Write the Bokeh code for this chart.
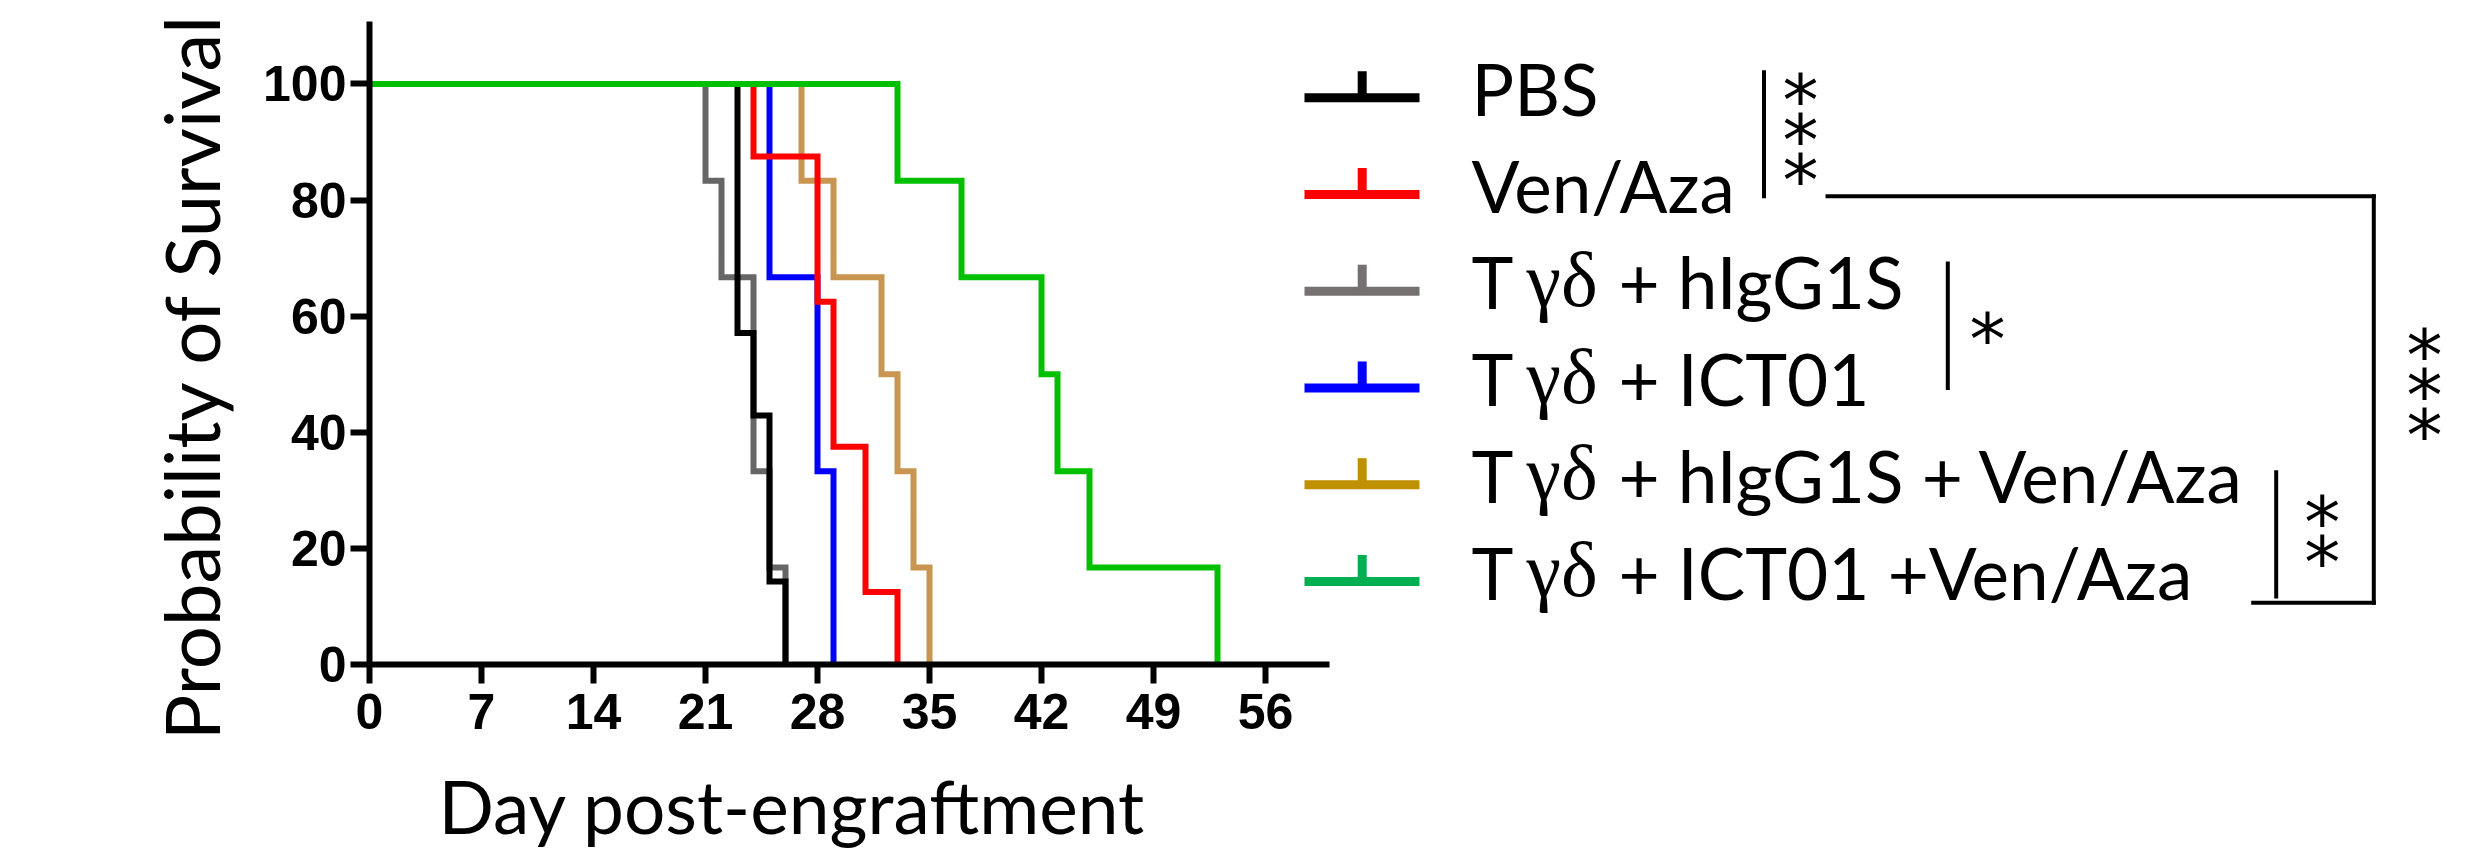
import math
from bokeh.plotting import figure
from bokeh.models import Range1d, FixedTicker, ColumnDataSource, Title
from bokeh.core.properties import value
from bokeh.embed import file_html
from bokeh.resources import INLINE

# ---------------- data ----------------
group_names = ["PBS", "Ven/Aza", "T γδ + hIgG1S", "T γδ + ICT01",
               "T γδ + hIgG1S + Ven/Aza", "T γδ + ICT01 +Ven/Aza"]

pbs_days = [0, 23, 24, 25, 26]
pbs_surv = [100, 57.1, 42.9, 14.3, 0]
venaza_days = [0, 24, 28, 29, 31, 33]
venaza_surv = [100, 87.5, 62.5, 37.5, 12.5, 0]
igg_days = [0, 21, 22, 24, 25, 26]
igg_surv = [100, 83.3, 66.7, 33.3, 16.7, 0]
ict_days = [0, 25, 28, 29]
ict_surv = [100, 66.7, 33.3, 0]
igg_va_days = [0, 27, 29, 32, 33, 34, 35]
igg_va_surv = [100, 83.3, 66.7, 50, 33.3, 16.7, 0]
ict_va_days = [0, 33, 37, 42, 43, 45, 53]
ict_va_surv = [100, 83.3, 66.7, 50, 33.3, 16.7, 0]

x_ticks = [0, 7, 14, 21, 28, 35, 42, 49, 56]
y_ticks = [0, 20, 40, 60, 80, 100]

curve_colors = ["#000000", "#FF0000", "#666666", "#0000FF", "#C89650", "#00C000"]
legend_colors = ["#000000", "#FF0000", "#767171", "#0000FF", "#BF9000", "#00B050"]

# significance annotations
sig_marks = ["***", "*", "**", "***"]

# ---------------- layout helpers (canvas px -> data) ----------------
W, H = 2490, 851
ML, MT, MR = 369, 21, 0
FRAME_H = 643
MB = H - MT - FRAME_H
FRAME_W = W - ML - MR
PX_DAY = 16.0
X_END = FRAME_W / PX_DAY
Y_END = 110.75
LEFT_PX = ML
BOTTOM_PX = MT + FRAME_H
FONT = "Lato"
FS = 71
SHIFT = 0.385  # baseline offset of the text glyph, in em


def dx(px):
    return (px - LEFT_PX) / PX_DAY


def dy(py):
    return (BOTTOM_PX - py) * Y_END / FRAME_H


p = figure(width=W, height=H, x_range=Range1d(0, X_END), y_range=Range1d(0, Y_END),
           output_backend="svg", toolbar_location=None,
           min_border_left=ML, min_border_right=MR, min_border_top=MT, min_border_bottom=MB)
p.outline_line_color = None
p.xgrid.visible = False
p.ygrid.visible = False
p.background_fill_color = "white"
p.border_fill_color = "white"

for ax in (p.xaxis[0], p.yaxis[0]):
    ax.axis_line_width = 6
    ax.major_tick_line_width = 6
    ax.major_tick_out = 19
    ax.major_tick_in = 0
    ax.minor_tick_out = 0
    ax.minor_tick_in = 0
    ax.major_label_text_font = "Liberation Sans"
    ax.major_label_text_font_style = "bold"
    ax.major_label_text_font_size = "50px"
    ax.major_label_text_color = "black"
    ax.axis_line_cap = "butt"

p.xaxis.ticker = FixedTicker(ticks=x_ticks)
p.xaxis.bounds = (0, 60)
p.xaxis.major_label_standoff = 10
# invisible spacer so that the title below sits lower
p.xaxis.axis_label = " "
p.xaxis.axis_label_text_font_size = "1px"
p.xaxis.axis_label_standoff = 24
p.yaxis.ticker = FixedTicker(ticks=y_ticks)
p.yaxis.major_label_standoff = 4

# ---------------- axis titles ----------------
p.add_layout(Title(text="Day post-engraftment", align="left", offset=69,
                   vertical_align="bottom", standoff=0,
                   text_font=FONT, text_font_size="73px", text_font_style="normal",
                   text_color="black"), "below")
p.add_layout(Title(text="Probability of Survival", align="right", offset=-9,
                   vertical_align="bottom", standoff=50,
                   text_font=FONT, text_font_size="76px", text_font_style="normal",
                   text_color="black"), "left")

# ---------------- survival curves ----------------
curves = [
    (igg_days, igg_surv, curve_colors[2]),
    (ict_days, ict_surv, curve_colors[3]),
    (igg_va_days, igg_va_surv, curve_colors[4]),
    (pbs_days, pbs_surv, curve_colors[0]),
    (venaza_days, venaza_surv, curve_colors[1]),
    (ict_va_days, ict_va_surv, curve_colors[5]),
]
for xs, ys, c in curves:
    p.step(xs, ys, mode="after", line_color=c, line_width=6, line_join="miter", line_cap="butt")

# ---------------- legend ----------------
row_py = [97.3 + 96.75 * i for i in range(6)]
leg = ColumnDataSource(dict(
    x0=[dx(1304)] * 6, x1=[dx(1419)] * 6, y=[dy(r) for r in row_py],
    tx=[dx(1361.7)] * 6, ty=[dy(r - 26.6) for r in row_py], color=legend_colors))
p.segment(x0="x0", y0="y", x1="x1", y1="y", line_color="color", line_width=9,
          line_cap="butt", source=leg)
p.segment(x0="tx", y0="y", x1="tx", y1="ty", line_color="color", line_width=9,
          line_cap="butt", source=leg)

pre, rest, tys, gys = [], [], [], []
plain_t, plain_y = [], []
for name, r in zip(group_names, row_py):
    base = r + 18
    if "γδ" in name:
        a, b = name.split("γδ")
        pre.append(a.strip())
        rest.append(b.strip())
        tys.append(dy(base - SHIFT * FS))
        gys.append(dy(base - SHIFT * 78))
    else:
        plain_t.append(name)
        plain_y.append(dy(base - SHIFT * FS))

txt = dict(text_font=value(FONT), text_font_size=value(f"{FS}px"),
           text_baseline="alphabetic", text_align="left", text_color="black")
p.text(x=[dx(1471)] * len(plain_t), y=plain_y, text=plain_t, **txt)
p.text(x=[dx(1471)] * len(pre), y=tys, text=pre, **txt)
p.text(x=[dx(1526)] * len(pre), y=gys, text=["γδ"] * len(pre),
       text_font=value("Liberation Serif"), text_font_size=value("78px"),
       text_baseline="alphabetic", text_align="left", text_color="black")
p.text(x=[dx(1618)] * len(rest), y=tys, text=rest, **txt)

# ---------------- significance brackets ----------------
br = ColumnDataSource(dict(
    x0=[dx(1763.5), dx(1827), dx(2373.3), dx(2252.7), dx(1947.3), dx(2275.7)],
    y0=[dy(71.7), dy(195.7), dy(195.7), dy(602.3), dy(263), dy(471.7)],
    x1=[dx(1763.5), dx(2373.3), dx(2373.3), dx(2373.3), dx(1947.3), dx(2275.7)],
    y1=[dy(195.7), dy(195.7), dy(602.3), dy(602.3), dy(387.5), dy(596)],
))
p.segment(x0="x0", y0="y0", x1="x1", y1="y1", line_color="black", line_width=4,
          line_cap="square", source=br)

# asterisks stacked vertically, one character per position
mark_anchor = [(1800, 91.7), (1987, 330), (2321.7, 513.3), (2424, 346.7)]
STAR_GAP = 40.0
STAR_FS = 72
sx, sy, st = [], [], []
for mark, (ax_px, ay_px) in zip(sig_marks, mark_anchor):
    for k, ch in enumerate(mark):
        sx.append(dx(ax_px))
        sy.append(dy(ay_px + k * STAR_GAP + 8))
        st.append(ch)
p.text(x=sx, y=sy, text=st, text_font=value("DejaVu Sans"), text_font_size=value(f"{STAR_FS}px"),
       text_align="center", text_baseline="alphabetic", text_color="black")

open("out.html", "w").write(file_html(p, INLINE))
